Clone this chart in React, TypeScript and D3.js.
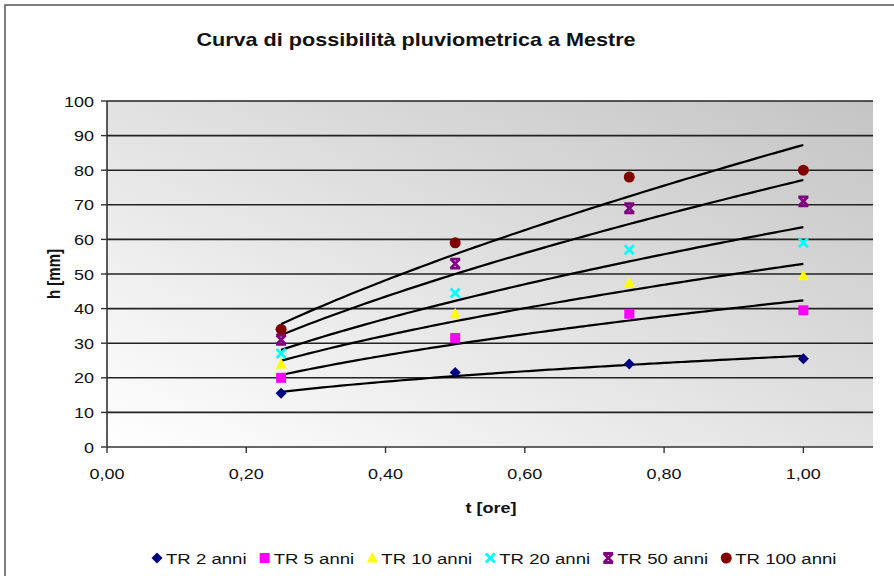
import React from "react";
import * as d3 from "d3";

// Rain durations (hours) and observed maximum heights (mm) per return period
const durations = [0.25, 0.5, 0.75, 1.0];
const seriesNames = ["TR 2 anni", "TR 5 anni", "TR 10 anni", "TR 20 anni", "TR 50 anni", "TR 100 anni"];
const tr2 = [15.5, 21.5, 24, 25.5];
const tr5 = [20, 31.5, 38.5, 39.5];
const tr10 = [24, 38.5, 47.5, 49.5];
const tr20 = [27, 44.5, 57, 59];
const tr50 = [31, 53, 69, 71];
const tr100 = [34, 59, 78, 80];
const seriesValues = [tr2, tr5, tr10, tr20, tr50, tr100];
const seriesColors = ["#000080", "#ff00ff", "#ffff00", "#00ffff", "#800080", "#800000"];
const markerKinds = ["diamond", "square", "triangle", "cross", "star", "circle"];

const yTicks = [0, 10, 20, 30, 40, 50, 60, 70, 80, 90, 100];
const xTicks = [0, 0.2, 0.4, 0.6, 0.8, 1.0];

const W = 894;
const H = 576;
const plot = { left: 107, right: 873, top: 101, bottom: 447 };
const SX = 1.2; // horizontal text stretch
const FONT = "'Liberation Sans', Arial, sans-serif";

// Power-law trend line h = a * t^n, least squares on logs
function powerFit(ts: number[], hs: number[]) {
  const lx = ts.map(Math.log);
  const ly = hs.map(Math.log);
  const mx = d3.mean(lx)!;
  const my = d3.mean(ly)!;
  const sxy = d3.sum(lx.map((v, i) => (v - mx) * (ly[i] - my)));
  const sxx = d3.sum(lx.map((v) => (v - mx) * (v - mx)));
  const n = sxy / sxx;
  const a = Math.exp(my - n * mx);
  return { a, n };
}

function Marker({ kind, color, x, y }: { kind: string; color: string; x: number; y: number }) {
  const t = `translate(${x},${y})`;
  switch (kind) {
    case "diamond":
      return <path transform={t} d="M0,-5.5L5.5,0L0,5.5L-5.5,0Z" fill={color} />;
    case "square":
      return <rect transform={t} x={-5} y={-5} width={10} height={10} fill={color} />;
    case "triangle":
      return <path transform={t} d="M0,-6L5.5,4.5L-5.5,4.5Z" fill={color} />;
    case "cross":
      return (
        <path transform={t} d="M-4.5,-4.5L4.5,4.5M4.5,-4.5L-4.5,4.5" stroke={color} strokeWidth={2.8} fill="none" />
      );
    case "star":
      return (
        <path
          transform={t}
          d="M-4.5,-4.5L4.5,4.5M4.5,-4.5L-4.5,4.5M-5,-4.5H5M-5,4.5H5"
          stroke={color}
          strokeWidth={2.8}
          fill="none"
        />
      );
    default:
      return <circle cx={x} cy={y} r={5.5} fill={color} />;
  }
}

function SText({
  x,
  y,
  children,
  anchor = "start",
  size = 15,
  weight = "normal",
  rotate = 0,
  sx = SX,
}: {
  x: number;
  y: number;
  children: React.ReactNode;
  anchor?: string;
  size?: number;
  weight?: string;
  rotate?: number;
  sx?: number;
}) {
  return (
    <text
      transform={`translate(${x},${y}) scale(${sx},1)${rotate ? ` rotate(${rotate})` : ""}`}
      textAnchor={anchor}
      fontFamily={FONT}
      fontSize={size}
      fontWeight={weight}
      fill="#111"
    >
      {children}
    </text>
  );
}

function measure(text: string, size: number, sx: number) {
  const c = document.createElement("canvas").getContext("2d")!;
  c.font = `${size}px 'Liberation Sans', Arial, sans-serif`;
  return c.measureText(text).width * sx;
}

export default function App() {
  const x = d3.scaleLinear().domain([0, 1.1]).range([plot.left, plot.right]);
  const y = d3.scaleLinear().domain([0, 100]).range([plot.bottom, plot.top]);
  const fmt = (v: number) => v.toFixed(2).replace(".", ",");

  const line = d3
    .line<[number, number]>()
    .x((d) => x(d[0]))
    .y((d) => y(d[1]))
    .curve(d3.curveMonotoneX);
  const tSamples = d3.range(0, 76).map((i) => 0.25 + i * 0.01);

  // legend layout
  const legendY = 558;
  const legendSX = 1.24;
  let cursor = 157;
  const legendItems = seriesNames.map((name, i) => {
    const mx = cursor;
    const tx = mx + 9;
    const w = measure(name, 15, legendSX);
    cursor = tx + w + 18;
    return { name, i, mx, tx };
  });

  return (
    <svg width={W} height={H} style={{ position: "absolute", left: 0, top: 0, background: "#fff" }}>
      <defs>
        <linearGradient id="plotBg" x1="0" y1="1" x2="1" y2="0">
          <stop offset="0" stopColor="#ffffff" />
          <stop offset="1" stopColor="#c4c4c4" />
        </linearGradient>
      </defs>
      {/* chart frame */}
      <rect x={5} y={5} width={W + 10} height={H + 10} fill="#fff" stroke="#555" strokeWidth={1.5} />

      <SText x={416} y={46} anchor="middle" size={18} weight="bold">
        Curva di possibilità pluviometrica a Mestre
      </SText>

      {/* plot area */}
      <rect
        x={plot.left}
        y={plot.top}
        width={plot.right - plot.left}
        height={plot.bottom - plot.top}
        fill="url(#plotBg)"
      />
      {yTicks.map((v) => (
        <g key={v}>
          {v > 0 && <line x1={plot.left} x2={plot.right} y1={y(v)} y2={y(v)} stroke="#222" strokeWidth={1.6} />}
          <line x1={plot.left - 6} x2={plot.left} y1={y(v)} y2={y(v)} stroke="#333" strokeWidth={1.4} />
          <SText x={94} y={y(v) + 5.5} anchor="end">
            {v}
          </SText>
        </g>
      ))}
      <line x1={plot.left} x2={plot.left} y1={plot.top} y2={plot.bottom} stroke="#333" strokeWidth={1.6} />
      <line x1={plot.left} x2={plot.right} y1={plot.bottom} y2={plot.bottom} stroke="#333" strokeWidth={1.6} />
      {xTicks.map((v) => (
        <g key={v}>
          <line x1={x(v)} x2={x(v)} y1={plot.bottom} y2={plot.bottom + 6} stroke="#333" strokeWidth={1.4} />
          <SText x={x(v)} y={479} anchor="middle">
            {fmt(v)}
          </SText>
        </g>
      ))}

      <SText x={491} y={513} anchor="middle" weight="bold">
        t [ore]
      </SText>
      <SText x={60} y={274} anchor="middle" weight="bold" rotate={-90}>
        h [mm]
      </SText>

      {/* power-law trend lines */}
      {seriesValues.map((vals, i) => {
        const { a, n } = powerFit(durations, vals);
        const pts: [number, number][] = tSamples.map((t) => [t, a * Math.pow(t, n)]);
        return <path key={i} d={line(pts)!} fill="none" stroke="#000" strokeWidth={2.2} />;
      })}

      {/* observed points */}
      {seriesValues.map((vals, i) =>
        vals.map((v, j) => (
          <Marker key={`${i}-${j}`} kind={markerKinds[i]} color={seriesColors[i]} x={x(durations[j])} y={y(v)} />
        ))
      )}

      {/* legend */}
      {legendItems.map((it) => (
        <g key={it.name}>
          <Marker kind={markerKinds[it.i]} color={seriesColors[it.i]} x={it.mx} y={legendY} />
          <SText x={it.tx} y={legendY + 5.5} sx={legendSX}>
            {it.name}
          </SText>
        </g>
      ))}
    </svg>
  );
}
